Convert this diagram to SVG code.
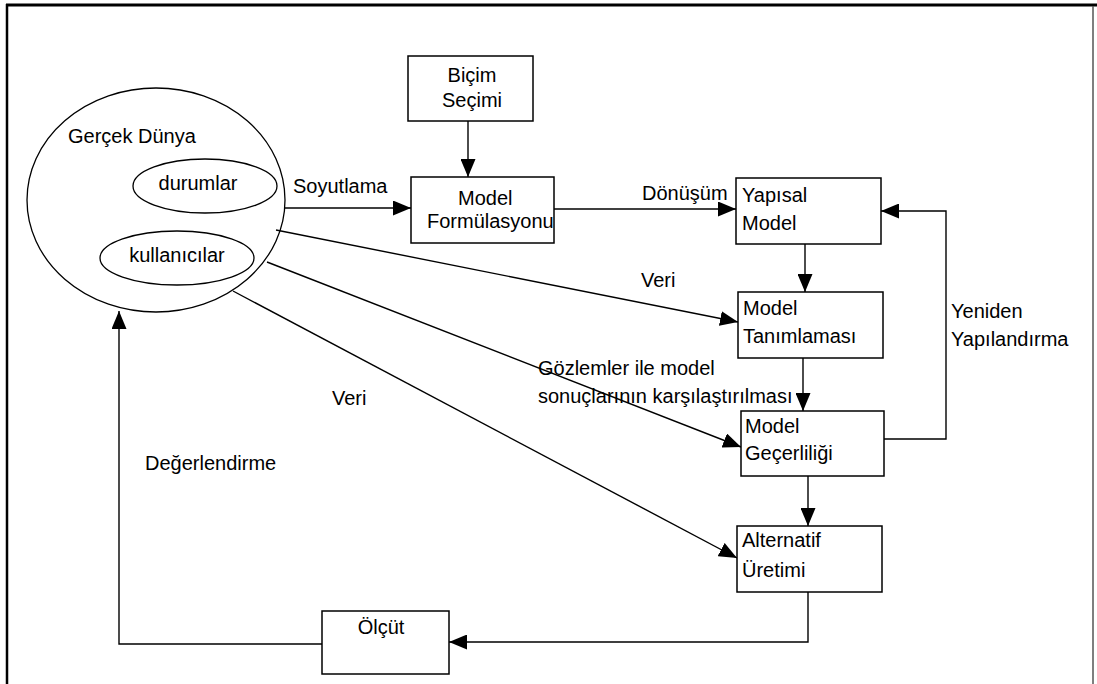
<svg xmlns="http://www.w3.org/2000/svg" width="1097" height="684" viewBox="0 0 1097 684">
<defs>
<marker id="arr" viewBox="0 0 18 15" refX="18" refY="7.5" markerWidth="18" markerHeight="15" markerUnits="userSpaceOnUse" orient="auto">
<path d="M0,0 L18,7.5 L0,15 z" fill="#000"/>
</marker>
</defs>
<style>
text{font-family:"Liberation Sans",Arial,sans-serif;font-size:20px;fill:#000}
.box{fill:#fff;stroke:#000;stroke-width:1.5}
.ell{fill:none;stroke:#000;stroke-width:1.3}
.con{fill:none;stroke:#000;stroke-width:1.4}
.mid{text-anchor:middle}
</style>
<rect width="1097" height="684" fill="#fff"/>
<g id="frame">
<line x1="6" y1="5" x2="1097" y2="5" stroke="#000" stroke-width="3"/>
<line x1="7" y1="4" x2="7" y2="684" stroke="#000" stroke-width="2.5"/>
<line x1="1093" y1="6" x2="1093" y2="684" stroke="#555" stroke-width="1.5"/>
</g>
<g id="connectors">
<line class="con" x1="285" y1="208" x2="411" y2="208" marker-end="url(#arr)"/>
<line class="con" x1="468" y1="121" x2="468" y2="177" marker-end="url(#arr)"/>
<line class="con" x1="554" y1="209" x2="736" y2="209" marker-end="url(#arr)"/>
<line class="con" x1="805" y1="244" x2="805" y2="292" marker-end="url(#arr)"/>
<line class="con" x1="803" y1="358" x2="803" y2="411" marker-end="url(#arr)"/>
<line class="con" x1="808" y1="476" x2="808" y2="526" marker-end="url(#arr)"/>
<polyline class="con" points="884,439 946,439 946,211 881,211" marker-end="url(#arr)"/>
<polyline class="con" points="808,592 808,642 449,642" marker-end="url(#arr)"/>
<polyline class="con" points="322,644 119,644 119,311" marker-end="url(#arr)"/>
<line class="con" x1="276" y1="230" x2="738" y2="322" marker-end="url(#arr)"/>
<line class="con" x1="267" y1="262" x2="741" y2="447" marker-end="url(#arr)"/>
<line class="con" x1="233" y1="291" x2="737" y2="558" marker-end="url(#arr)"/>
</g>
<g id="gercek-dunya">
<ellipse class="ell" cx="156" cy="200" rx="129" ry="112"/>
<text x="68" y="143">Gerçek Dünya</text>
</g>
<g id="durumlar">
<ellipse class="ell" cx="205" cy="186" rx="72" ry="27"/>
<text class="mid" x="198" y="190">durumlar</text>
</g>
<g id="kullanicilar">
<ellipse class="ell" cx="177" cy="258" rx="77" ry="27"/>
<text class="mid" x="177" y="262">kullanıcılar</text>
</g>
<g id="bicim-secimi">
<rect class="box" x="408" y="56" width="125" height="65"/>
<text class="mid" x="472" y="82">Biçim</text>
<text class="mid" x="472" y="107">Seçimi</text>
</g>
<g id="model-formulasyonu">
<rect class="box" x="411" y="177" width="143" height="66"/>
<text x="458" y="205">Model</text>
<text x="427" y="228">Formülasyonu</text>
</g>
<g id="yapisal-model">
<rect class="box" x="736" y="178" width="145" height="66"/>
<text x="742" y="202">Yapısal</text>
<text x="742" y="230">Model</text>
</g>
<g id="model-tanimlamasi">
<rect class="box" x="738" y="292" width="145" height="66"/>
<text x="743" y="315">Model</text>
<text x="743" y="343">Tanımlaması</text>
</g>
<g id="model-gecerliligi">
<rect class="box" x="741" y="411" width="143" height="65"/>
<text x="745" y="433">Model</text>
<text x="745" y="460">Geçerliliği</text>
</g>
<g id="alternatif-uretimi">
<rect class="box" x="737" y="526" width="145" height="66"/>
<text x="742" y="547">Alternatif</text>
<text x="742" y="577">Üretimi</text>
</g>
<g id="olcut">
<rect class="box" x="322" y="611" width="127" height="63"/>
<text class="mid" x="381" y="634">Ölçüt</text>
</g>
<g id="labels">
<text x="293" y="193">Soyutlama</text>
<text x="642" y="200">Dönüşüm</text>
<text x="641" y="287">Veri</text>
<text x="332" y="405">Veri</text>
<text x="538" y="375">Gözlemler ile model</text>
<text x="538" y="403">sonuçlarının karşılaştırılması</text>
<text x="951" y="318">Yeniden</text>
<text x="951" y="346">Yapılandırma</text>
<text x="145" y="470">Değerlendirme</text>
</g>
</svg>
